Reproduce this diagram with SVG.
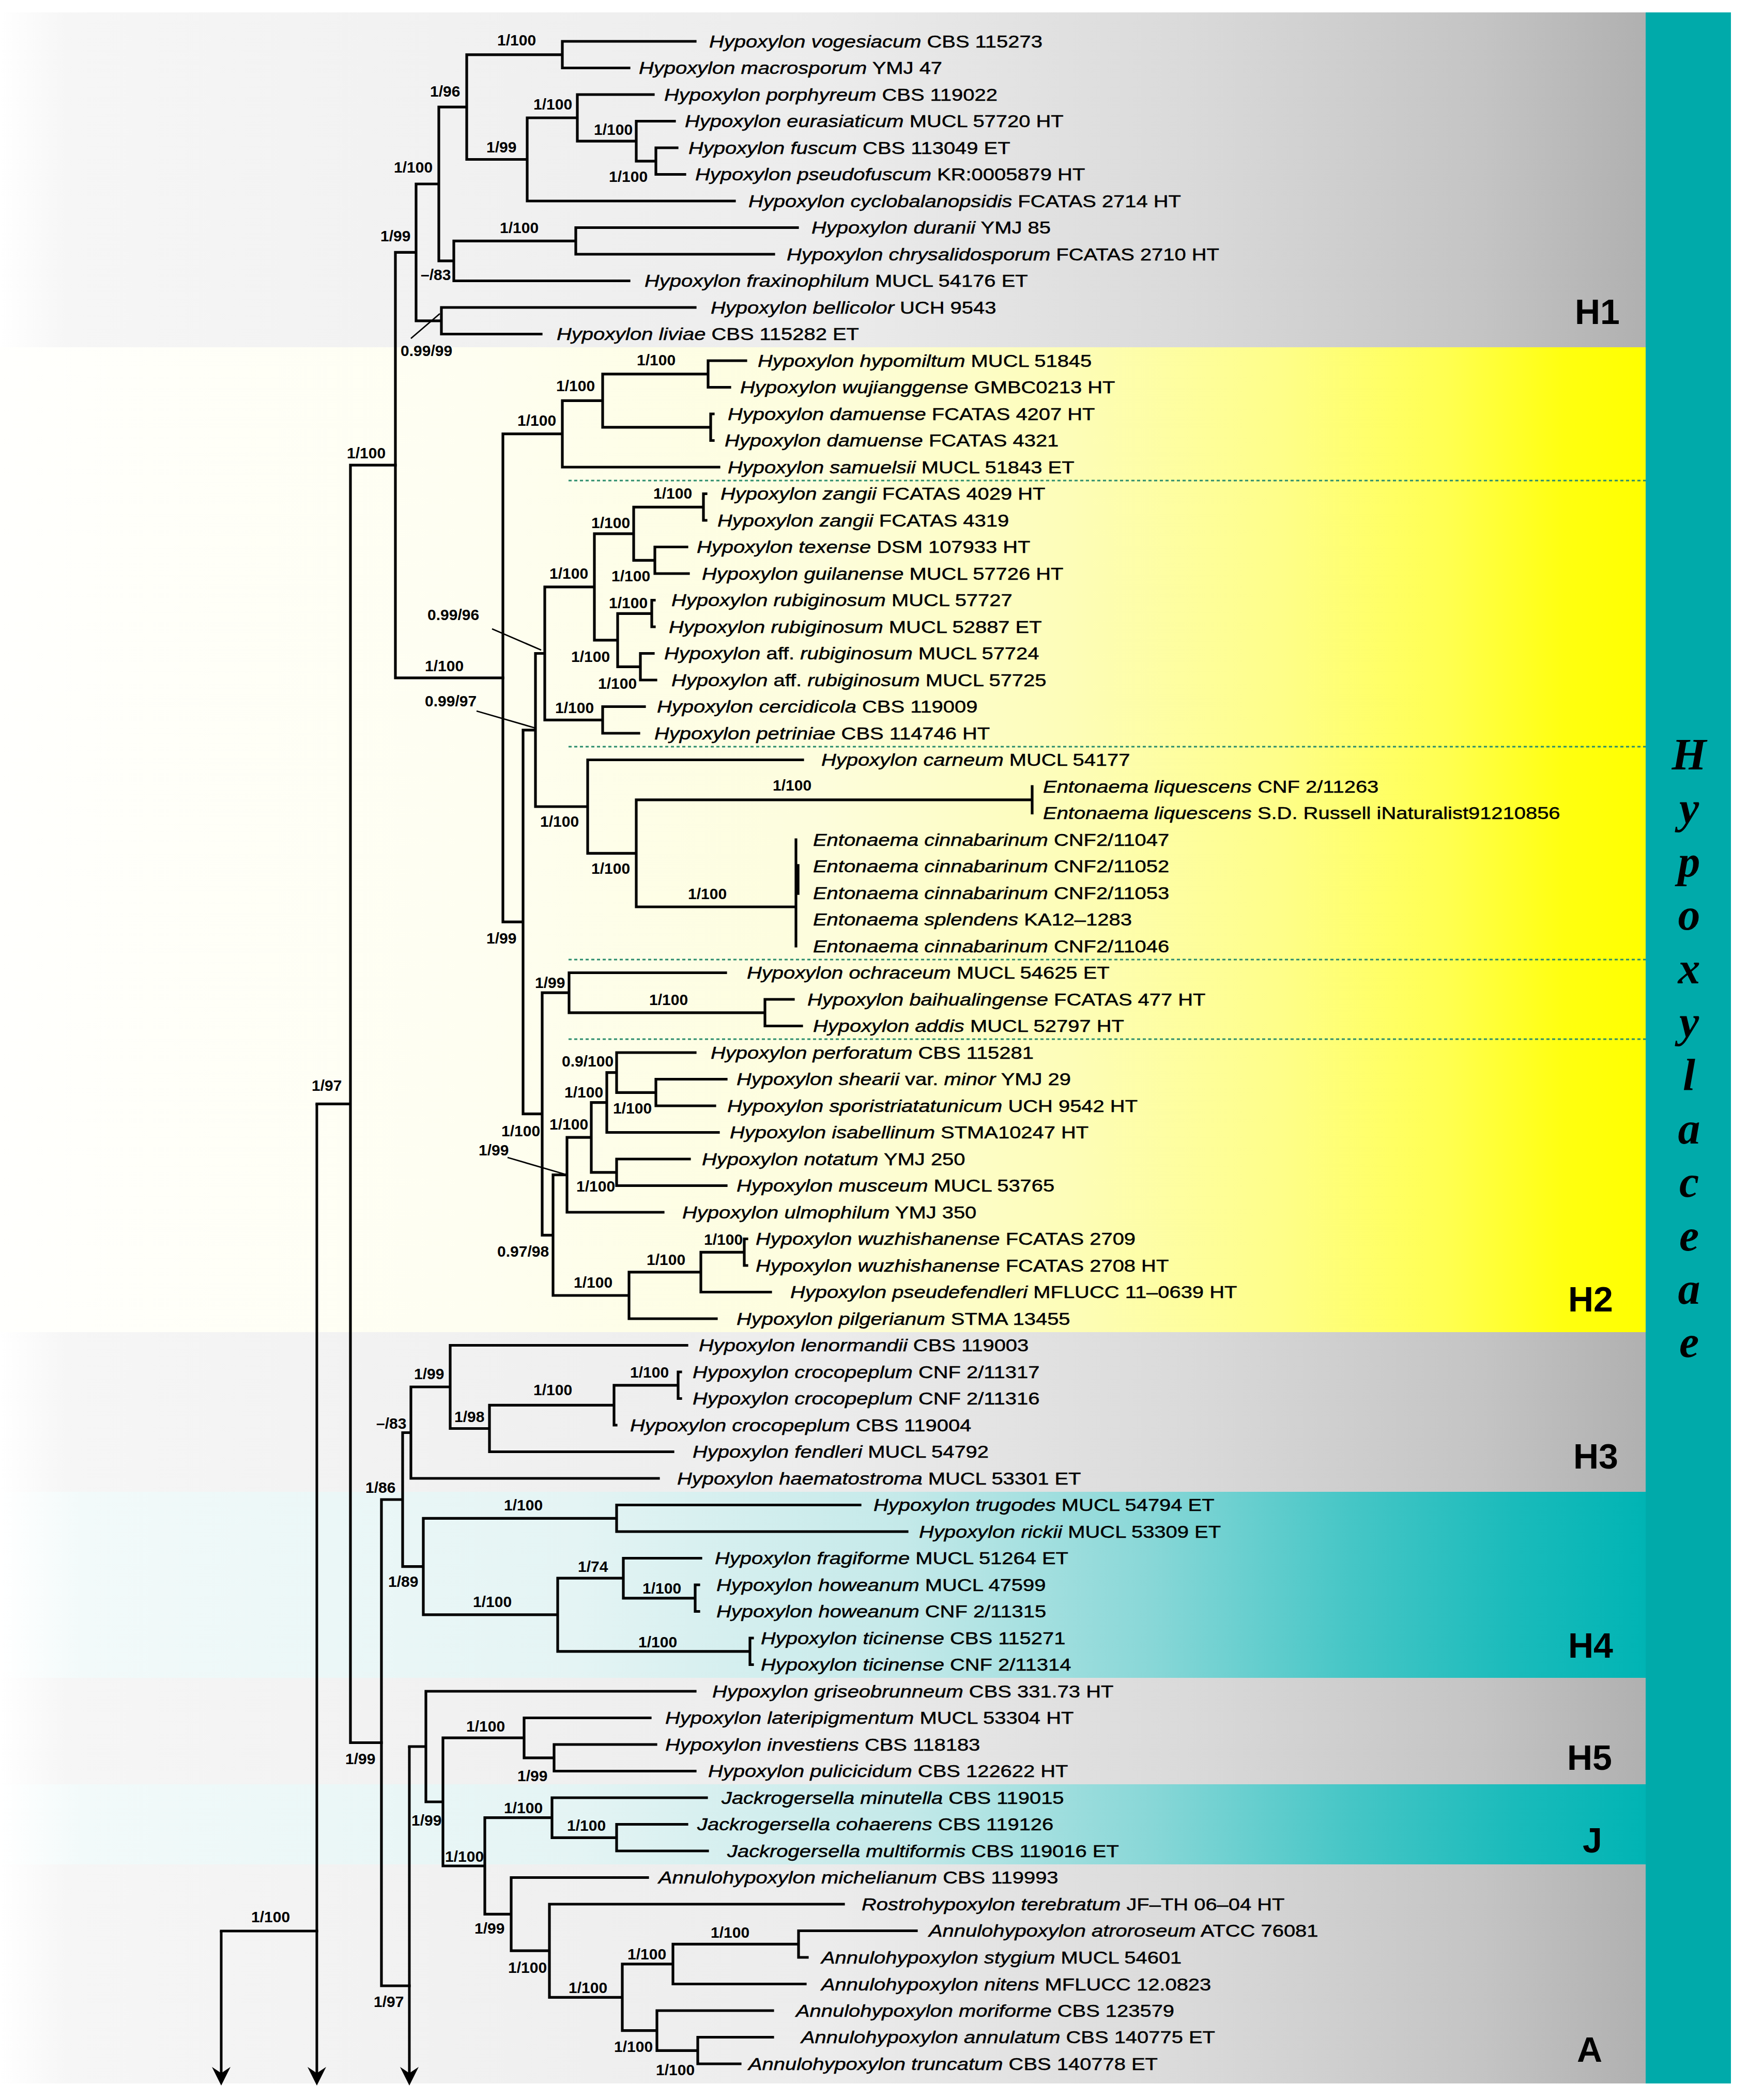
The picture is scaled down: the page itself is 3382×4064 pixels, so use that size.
<svg xmlns="http://www.w3.org/2000/svg" width="3382" height="4064" viewBox="0 0 3382 4064">
<style>
.br{stroke:#000;stroke-width:5.2;fill:none;stroke-linecap:square}
.ar{stroke:#000;stroke-width:5;fill:none;stroke-linecap:butt}
.ld{stroke:#000;stroke-width:2.8;fill:none}
.dot{stroke:#2a8c6c;stroke-width:3;stroke-dasharray:6 5;fill:none}
.lf{font-family:"Liberation Sans",Arial,sans-serif;font-size:33px;fill:#000;stroke:#000;stroke-width:0.5}
.i{font-style:italic}
.sp{font-family:"Liberation Sans",Arial,sans-serif;font-size:30px;font-weight:bold;fill:#000}
.cl{font-family:"Liberation Sans",Arial,sans-serif;font-size:68px;font-weight:bold;fill:#000}
.fam{font-family:"Liberation Serif","Times New Roman",serif;font-size:86px;font-weight:bold;font-style:italic;fill:#000;text-anchor:middle}
</style>
<defs>
<linearGradient id="gGray" gradientUnits="userSpaceOnUse" x1="0" y1="0" x2="3184" y2="0">
<stop offset="0" stop-color="#ffffff"/><stop offset="0.04" stop-color="#f6f6f6"/><stop offset="0.5" stop-color="#ececec"/><stop offset="0.72" stop-color="#dadada"/><stop offset="0.9" stop-color="#c4c4c4"/><stop offset="1" stop-color="#b0b0b0"/>
</linearGradient>
<linearGradient id="gYel" gradientUnits="userSpaceOnUse" x1="0" y1="0" x2="3184" y2="0">
<stop offset="0" stop-color="#fffffd"/><stop offset="0.3" stop-color="#fefef0"/><stop offset="0.5" stop-color="#fdfddc"/><stop offset="0.65" stop-color="#fdfdb8"/><stop offset="0.78" stop-color="#fefe88"/><stop offset="0.88" stop-color="#ffff50"/><stop offset="0.95" stop-color="#ffff10"/><stop offset="1" stop-color="#ffff00"/>
</linearGradient>
<linearGradient id="gTeal" gradientUnits="userSpaceOnUse" x1="0" y1="0" x2="3184" y2="0">
<stop offset="0" stop-color="#ffffff"/><stop offset="0.05" stop-color="#f2fafa"/><stop offset="0.35" stop-color="#e4f4f4"/><stop offset="0.55" stop-color="#c4e9e9"/><stop offset="0.7" stop-color="#88d7d7"/><stop offset="0.82" stop-color="#46c6c6"/><stop offset="0.92" stop-color="#1abbbb"/><stop offset="1" stop-color="#00b4b4"/>
</linearGradient>
<marker id="arrow" viewBox="-32 -20 40 40" refX="0" refY="0" markerWidth="40" markerHeight="40" markerUnits="userSpaceOnUse" orient="auto">
<path d="M6,0 L-30,-18 L-18,0 L-30,18 Z" fill="#000"/>
</marker>
</defs>
<rect x="0" y="0" width="3382" height="4064" fill="#ffffff"/>
<g id="bands">
<rect id="band-H1" x="0" y="24" width="3184" height="648" fill="url(#gGray)"/>
<rect id="band-H2" x="0" y="672" width="3184" height="1906" fill="url(#gYel)"/>
<rect id="band-H3" x="0" y="2578" width="3184" height="309" fill="url(#gGray)"/>
<rect id="band-H4" x="0" y="2887" width="3184" height="360" fill="url(#gTeal)"/>
<rect id="band-H5" x="0" y="3247" width="3184" height="206" fill="url(#gGray)"/>
<rect id="band-J" x="0" y="3453" width="3184" height="155" fill="url(#gTeal)"/>
<rect id="band-A" x="0" y="3608" width="3184" height="424" fill="url(#gGray)"/>
<rect id="family-bar" x="3184" y="24" width="165" height="4008" fill="#00aaaa"/>
<path class="dot" d="M1100,930H3184 M1100,1445H3184 M1100,1857H3184 M1100,2011H3184"/>
</g>
<g id="connectors">
<path class="br" d="M1088,80V131.5 M1088,80H1345 M1088,131.5H1217 M1269,286V337.5 M1269,286H1310 M1269,337.5H1325 M1231,234.5V311.8 M1231,234.5H1305 M1231,311.8H1269 M1117,183V273.1 M1117,183H1264 M1117,273.1H1231 M1020,228V389 M1020,228H1117 M1020,389H1421 M903,105.8V308.5 M903,105.8H1088 M903,308.5H1020 M1114,440.5V492 M1114,440.5H1543 M1114,492H1497 M878,466.3V543.5 M878,466.3H1114 M878,543.5H1217 M849,207.1V504.9 M849,207.1H903 M849,504.9H878 M854,595V646.5 M854,595H1345 M854,646.5H1047 M805,356V620.8 M805,356H849 M805,620.8H854 M765,488.4V1311.9 M765,488.4H805 M765,1311.9H973"/>
<path class="br" d="M1370,698V749.5 M1370,698H1443 M1370,749.5H1412 M1375,801V852.5 M1375,801H1380 M1375,852.5H1380 M1166,723.8V826.8 M1166,723.8H1370 M1166,826.8H1375 M1088,775.3V904 M1088,775.3H1166 M1088,904H1391 M1361,955.5V1007 M1361,955.5H1366 M1361,1007H1366 M1267,1058.5V1110 M1267,1058.5H1329 M1267,1110H1332 M1226,981.3V1084.3 M1226,981.3H1361 M1226,1084.3H1267 M1261,1161.5V1213 M1261,1161.5H1266 M1261,1213H1266 M1239,1264.5V1316 M1239,1264.5H1264 M1239,1316H1269 M1195,1187.3V1290.3 M1195,1187.3H1261 M1195,1290.3H1239 M1150,1032.8V1238.8 M1150,1032.8H1226 M1150,1238.8H1195 M1166,1367.5V1419 M1166,1367.5H1247 M1166,1419H1236 M1054,1135.8V1393.3 M1054,1135.8H1150 M1054,1393.3H1166 M1997,1522V1573.5 M1540,1625V1831 M1231,1547.8V1755 M1231,1547.8H1997 M1231,1755H1540 M1137,1470.5V1651.4 M1137,1470.5H1553 M1137,1651.4H1231 M1036,1264.5V1561 M1036,1264.5H1054 M1036,1561H1137 M1480,1934V1985.5 M1480,1934H1535 M1480,1985.5H1551 M1101,1882.5V1959.8 M1101,1882.5H1404 M1101,1959.8H1480 M1269,2088.5V2140 M1269,2088.5H1405 M1269,2140H1383 M1193,2037V2114.3 M1193,2037H1345 M1193,2114.3H1269 M1174,2075.6V2191.5 M1174,2075.6H1193 M1174,2191.5H1390 M1193,2243V2294.5 M1193,2243H1334 M1193,2294.5H1405 M1144,2133.6V2268.8 M1144,2133.6H1174 M1144,2268.8H1193 M1097,2201.2V2346 M1097,2201.2H1144 M1097,2346H1283 M1440,2397.5V2449 M1440,2397.5H1445 M1440,2449H1445 M1356,2423.3V2500.5 M1356,2423.3H1440 M1356,2500.5H1491 M1217,2461.9V2552 M1217,2461.9H1356 M1217,2552H1386 M1070,2273.6V2507 M1070,2273.6H1097 M1070,2507H1217 M1049,1921.1V2390.3 M1049,1921.1H1101 M1049,2390.3H1070 M1012,1412.8V2155.7 M1012,1412.8H1036 M1012,2155.7H1049 M973,839.6V1784.2 M973,839.6H1088 M973,1784.2H1012 M678,900.2V3372.5 M678,900.2H765 M678,3372.5H738 M613,2136.4H678"/>
<path class="br" style="stroke-width:7.5" d="M1543,1676V1728"/>
<path class="br" d="M1312,2655V2706.5 M1312,2655H1317 M1312,2706.5H1317 M1188,2680.8V2758 M1188,2680.8H1312 M1188,2758H1192 M947,2719.4V2809.5 M947,2719.4H1188 M947,2809.5H1302 M871,2603.5V2764.5 M871,2603.5H1329 M871,2764.5H947 M795,2684V2861 M795,2684H871 M795,2861H1274 M1193,2912.5V2964 M1193,2912.5H1664 M1193,2964H1755 M1345,3067V3118.5 M1345,3067H1352 M1345,3118.5H1352 M1206,3015.5V3092.8 M1206,3015.5H1356 M1206,3092.8H1345 M1451,3170V3221.5 M1451,3170H1456 M1451,3221.5H1456 M1079,3054.1V3195.8 M1079,3054.1H1206 M1079,3195.8H1451 M819,2938.3V3124.9 M819,2938.3H1193 M819,3124.9H1079 M779,2772.5V3031.6 M779,2772.5H795 M779,3031.6H819 M738,2902V3843 M738,2902H779 M738,3843H792"/>
<path class="br" d="M1072,3376V3427.5 M1072,3376H1269 M1072,3427.5H1345 M1014,3324.5V3401.8 M1014,3324.5H1258 M1014,3401.8H1072 M1193,3530.5V3582 M1193,3530.5H1329 M1193,3582H1369 M1068,3479V3556.3 M1068,3479H1367 M1068,3556.3H1193 M1545,3736.5V3788 M1545,3736.5H1773 M1545,3788H1562 M1302,3762.3V3839.5 M1302,3762.3H1545 M1302,3839.5H1558 M1350,3942.5V3994 M1350,3942.5H1495 M1350,3994H1432 M1271,3891V3968.3 M1271,3891H1495 M1271,3968.3H1350 M1204,3800.9V3929.6 M1204,3800.9H1302 M1204,3929.6H1271 M1063,3685V3865.3 M1063,3685H1632 M1063,3865.3H1204 M989,3633.5V3775.1 M989,3633.5H1253 M989,3775.1H1063 M938,3517.6V3704.3 M938,3517.6H1068 M938,3704.3H989 M857,3363.1V3611 M857,3363.1H1014 M857,3611H938 M824,3273V3487 M824,3273H1345 M824,3487H857 M792,3380H824 M428,3737H613"/>
<path class="ar" marker-end="url(#arrow)" d="M613,2136.4V4030"/>
<path class="ar" marker-end="url(#arrow)" d="M792,3380V4030"/>
<path class="ar" marker-end="url(#arrow)" d="M428,3737V4030"/>
<path class="ld" d="M795,655L851,607 M952,1217L1047,1258 M922,1376L1036,1409 M982,2240L1095,2273"/>
</g>
<g id="taxa" class="lf" transform="scale(1.21 1)">
<g id="t00"><text x="1133.9" y="92"><tspan class="i">Hypoxylon vogesiacum</tspan> CBS 115273</text></g>
<g id="t01"><text x="1021.5" y="143.5"><tspan class="i">Hypoxylon macrosporum</tspan> YMJ 47</text></g>
<g id="t02"><text x="1062" y="195"><tspan class="i">Hypoxylon porphyreum</tspan> CBS 119022</text></g>
<g id="t03"><text x="1095" y="246.5"><tspan class="i">Hypoxylon eurasiaticum</tspan> MUCL 57720 HT</text></g>
<g id="t04"><text x="1100.8" y="298"><tspan class="i">Hypoxylon fuscum</tspan> CBS 113049 ET</text></g>
<g id="t05"><text x="1111.6" y="349.5"><tspan class="i">Hypoxylon pseudofuscum</tspan> KR:0005879 HT</text></g>
<g id="t06"><text x="1196.7" y="401"><tspan class="i">Hypoxylon cyclobalanopsidis</tspan> FCATAS 2714 HT</text></g>
<g id="t07"><text x="1297.5" y="452.5"><tspan class="i">Hypoxylon duranii</tspan> YMJ 85</text></g>
<g id="t08"><text x="1257.9" y="504"><tspan class="i">Hypoxylon chrysalidosporum</tspan> FCATAS 2710 HT</text></g>
<g id="t09"><text x="1030.6" y="555.5"><tspan class="i">Hypoxylon fraxinophilum</tspan> MUCL 54176 ET</text></g>
<g id="t10"><text x="1136.4" y="607"><tspan class="i">Hypoxylon bellicolor</tspan> UCH 9543</text></g>
<g id="t11"><text x="890.1" y="658.5"><tspan class="i">Hypoxylon liviae</tspan> CBS 115282 ET</text></g>
<g id="t12"><text x="1211.6" y="710"><tspan class="i">Hypoxylon hypomiltum</tspan> MUCL 51845</text></g>
<g id="t13"><text x="1183.5" y="761.5"><tspan class="i">Hypoxylon wujianggense</tspan> GMBC0213 HT</text></g>
<g id="t14"><text x="1163.6" y="813"><tspan class="i">Hypoxylon damuense</tspan> FCATAS 4207 HT</text></g>
<g id="t15"><text x="1158.7" y="864.5"><tspan class="i">Hypoxylon damuense</tspan> FCATAS 4321</text></g>
<g id="t16"><text x="1163.6" y="916"><tspan class="i">Hypoxylon samuelsii</tspan> MUCL 51843 ET</text></g>
<g id="t17"><text x="1152.1" y="967.5"><tspan class="i">Hypoxylon zangii</tspan> FCATAS 4029 HT</text></g>
<g id="t18"><text x="1147.1" y="1019"><tspan class="i">Hypoxylon zangii</tspan> FCATAS 4319</text></g>
<g id="t19"><text x="1114" y="1070.5"><tspan class="i">Hypoxylon texense</tspan> DSM 107933 HT</text></g>
<g id="t20"><text x="1122.3" y="1122"><tspan class="i">Hypoxylon guilanense</tspan> MUCL 57726 HT</text></g>
<g id="t21"><text x="1073.6" y="1173.5"><tspan class="i">Hypoxylon rubiginosum</tspan> MUCL 57727</text></g>
<g id="t22"><text x="1069.4" y="1225"><tspan class="i">Hypoxylon rubiginosum</tspan> MUCL 52887 ET</text></g>
<g id="t23"><text x="1062" y="1276.5"><tspan class="i">Hypoxylon</tspan> aff. <tspan class="i">rubiginosum</tspan> MUCL 57724</text></g>
<g id="t24"><text x="1073.6" y="1328"><tspan class="i">Hypoxylon</tspan> aff. <tspan class="i">rubiginosum</tspan> MUCL 57725</text></g>
<g id="t25"><text x="1050.4" y="1379.5"><tspan class="i">Hypoxylon cercidicola</tspan> CBS 119009</text></g>
<g id="t26"><text x="1046.3" y="1431"><tspan class="i">Hypoxylon petriniae</tspan> CBS 114746 HT</text></g>
<g id="t27"><text x="1313.2" y="1482.5"><tspan class="i">Hypoxylon carneum</tspan> MUCL 54177</text></g>
<g id="t28"><text x="1667.8" y="1534"><tspan class="i">Entonaema liquescens</tspan> CNF 2/11263</text></g>
<g id="t29"><text x="1667.8" y="1585.5"><tspan class="i">Entonaema liquescens</tspan> S.D. Russell iNaturalist91210856</text></g>
<g id="t30"><text x="1300" y="1637"><tspan class="i">Entonaema cinnabarinum</tspan> CNF2/11047</text></g>
<g id="t31"><text x="1300" y="1688.5"><tspan class="i">Entonaema cinnabarinum</tspan> CNF2/11052</text></g>
<g id="t32"><text x="1300" y="1740"><tspan class="i">Entonaema cinnabarinum</tspan> CNF2/11053</text></g>
<g id="t33"><text x="1300" y="1791.5"><tspan class="i">Entonaema splendens</tspan> KA12–1283</text></g>
<g id="t34"><text x="1300" y="1843"><tspan class="i">Entonaema cinnabarinum</tspan> CNF2/11046</text></g>
<g id="t35"><text x="1194.2" y="1894.5"><tspan class="i">Hypoxylon ochraceum</tspan> MUCL 54625 ET</text></g>
<g id="t36"><text x="1290.9" y="1946"><tspan class="i">Hypoxylon baihualingense</tspan> FCATAS 477 HT</text></g>
<g id="t37"><text x="1300" y="1997.5"><tspan class="i">Hypoxylon addis</tspan> MUCL 52797 HT</text></g>
<g id="t38"><text x="1136.4" y="2049"><tspan class="i">Hypoxylon perforatum</tspan> CBS 115281</text></g>
<g id="t39"><text x="1177.7" y="2100.5"><tspan class="i">Hypoxylon shearii</tspan> var. <tspan class="i">minor</tspan> YMJ 29</text></g>
<g id="t40"><text x="1162.8" y="2152"><tspan class="i">Hypoxylon sporistriatatunicum</tspan> UCH 9542 HT</text></g>
<g id="t41"><text x="1166.9" y="2203.5"><tspan class="i">Hypoxylon isabellinum</tspan> STMA10247 HT</text></g>
<g id="t42"><text x="1122.3" y="2255"><tspan class="i">Hypoxylon notatum</tspan> YMJ 250</text></g>
<g id="t43"><text x="1177.7" y="2306.5"><tspan class="i">Hypoxylon musceum</tspan> MUCL 53765</text></g>
<g id="t44"><text x="1090.9" y="2358"><tspan class="i">Hypoxylon ulmophilum</tspan> YMJ 350</text></g>
<g id="t45"><text x="1208.3" y="2409.5"><tspan class="i">Hypoxylon wuzhishanense</tspan> FCATAS 2709</text></g>
<g id="t46"><text x="1208.3" y="2461"><tspan class="i">Hypoxylon wuzhishanense</tspan> FCATAS 2708 HT</text></g>
<g id="t47"><text x="1263.6" y="2512.5"><tspan class="i">Hypoxylon pseudefendleri</tspan> MFLUCC 11–0639 HT</text></g>
<g id="t48"><text x="1177.7" y="2564"><tspan class="i">Hypoxylon pilgerianum</tspan> STMA 13455</text></g>
<g id="t49"><text x="1117.4" y="2615.5"><tspan class="i">Hypoxylon lenormandii</tspan> CBS 119003</text></g>
<g id="t50"><text x="1107.4" y="2667"><tspan class="i">Hypoxylon crocopeplum</tspan> CNF 2/11317</text></g>
<g id="t51"><text x="1107.4" y="2718.5"><tspan class="i">Hypoxylon crocopeplum</tspan> CNF 2/11316</text></g>
<g id="t52"><text x="1007.4" y="2770"><tspan class="i">Hypoxylon crocopeplum</tspan> CBS 119004</text></g>
<g id="t53"><text x="1107.4" y="2821.5"><tspan class="i">Hypoxylon fendleri</tspan> MUCL 54792</text></g>
<g id="t54"><text x="1082.6" y="2873"><tspan class="i">Hypoxylon haematostroma</tspan> MUCL 53301 ET</text></g>
<g id="t55"><text x="1396.7" y="2924.5"><tspan class="i">Hypoxylon trugodes</tspan> MUCL 54794 ET</text></g>
<g id="t56"><text x="1469.4" y="2976"><tspan class="i">Hypoxylon rickii</tspan> MUCL 53309 ET</text></g>
<g id="t57"><text x="1143" y="3027.5"><tspan class="i">Hypoxylon fragiforme</tspan> MUCL 51264 ET</text></g>
<g id="t58"><text x="1145.5" y="3079"><tspan class="i">Hypoxylon howeanum</tspan> MUCL 47599</text></g>
<g id="t59"><text x="1145.5" y="3130.5"><tspan class="i">Hypoxylon howeanum</tspan> CNF 2/11315</text></g>
<g id="t60"><text x="1216.5" y="3182"><tspan class="i">Hypoxylon ticinense</tspan> CBS 115271</text></g>
<g id="t61"><text x="1216.5" y="3233.5"><tspan class="i">Hypoxylon ticinense</tspan> CNF 2/11314</text></g>
<g id="t62"><text x="1138.8" y="3285"><tspan class="i">Hypoxylon griseobrunneum</tspan> CBS 331.73 HT</text></g>
<g id="t63"><text x="1063.6" y="3336.5"><tspan class="i">Hypoxylon lateripigmentum</tspan> MUCL 53304 HT</text></g>
<g id="t64"><text x="1063.6" y="3388"><tspan class="i">Hypoxylon investiens</tspan> CBS 118183</text></g>
<g id="t65"><text x="1132.2" y="3439.5"><tspan class="i">Hypoxylon pulicicidum</tspan> CBS 122622 HT</text></g>
<g id="t66"><text x="1153.7" y="3491"><tspan class="i">Jackrogersella minutella</tspan> CBS 119015</text></g>
<g id="t67"><text x="1114.9" y="3542.5"><tspan class="i">Jackrogersella cohaerens</tspan> CBS 119126</text></g>
<g id="t68"><text x="1162.8" y="3594"><tspan class="i">Jackrogersella multiformis</tspan> CBS 119016 ET</text></g>
<g id="t69"><text x="1052.9" y="3645.5"><tspan class="i">Annulohypoxylon michelianum</tspan> CBS 119993</text></g>
<g id="t70"><text x="1377.7" y="3697"><tspan class="i">Rostrohypoxylon terebratum</tspan> JF–TH 06–04 HT</text></g>
<g id="t71"><text x="1485.1" y="3748.5"><tspan class="i">Annulohypoxylon atroroseum</tspan> ATCC 76081</text></g>
<g id="t72"><text x="1313.2" y="3800"><tspan class="i">Annulohypoxylon stygium</tspan> MUCL 54601</text></g>
<g id="t73"><text x="1313.2" y="3851.5"><tspan class="i">Annulohypoxylon nitens</tspan> MFLUCC 12.0823</text></g>
<g id="t74"><text x="1272.7" y="3903"><tspan class="i">Annulohypoxylon moriforme</tspan> CBS 123579</text></g>
<g id="t75"><text x="1281" y="3954.5"><tspan class="i">Annulohypoxylon annulatum</tspan> CBS 140775 ET</text></g>
<g id="t76"><text x="1196.7" y="4006"><tspan class="i">Annulohypoxylon truncatum</tspan> CBS 140778 ET</text></g>
</g>
<g id="support" class="sp">
<text x="962" y="88">1/100</text>
<text x="832" y="187">1/96</text>
<text x="1032" y="212">1/100</text>
<text x="941" y="295">1/99</text>
<text x="1149" y="261">1/100</text>
<text x="1178" y="352">1/100</text>
<text x="762" y="334">1/100</text>
<text x="967" y="451">1/100</text>
<text x="814" y="542">–/83</text>
<text x="736" y="467">1/99</text>
<text x="775" y="689">0.99/99</text>
<text x="671" y="887">1/100</text>
<text x="1232" y="707">1/100</text>
<text x="1076" y="757">1/100</text>
<text x="1001" y="824">1/100</text>
<text x="1264" y="965">1/100</text>
<text x="1144" y="1022">1/100</text>
<text x="1183" y="1125">1/100</text>
<text x="1063" y="1120">1/100</text>
<text x="1178" y="1177">1/100</text>
<text x="827" y="1200">0.99/96</text>
<text x="1105" y="1281">1/100</text>
<text x="822" y="1299">1/100</text>
<text x="1157" y="1333">1/100</text>
<text x="822" y="1367">0.99/97</text>
<text x="1074" y="1380">1/100</text>
<text x="1495" y="1530">1/100</text>
<text x="1045" y="1600">1/100</text>
<text x="1144" y="1691">1/100</text>
<text x="1331" y="1740">1/100</text>
<text x="941" y="1826">1/99</text>
<text x="1035" y="1912">1/99</text>
<text x="1256" y="1945">1/100</text>
<text x="1087" y="2064">0.9/100</text>
<text x="603" y="2111">1/97</text>
<text x="1092" y="2124">1/100</text>
<text x="1186" y="2155">1/100</text>
<text x="1063" y="2186">1/100</text>
<text x="970" y="2199">1/100</text>
<text x="926" y="2236">1/99</text>
<text x="1115" y="2306">1/100</text>
<text x="1362" y="2409">1/100</text>
<text x="962" y="2432">0.97/98</text>
<text x="1251" y="2448">1/100</text>
<text x="1110" y="2492">1/100</text>
<text x="801" y="2669">1/99</text>
<text x="1219" y="2666">1/100</text>
<text x="1032" y="2700">1/100</text>
<text x="879" y="2752">1/98</text>
<text x="728" y="2765">–/83</text>
<text x="707" y="2889">1/86</text>
<text x="975" y="2923">1/100</text>
<text x="1118" y="3042">1/74</text>
<text x="751" y="3071">1/89</text>
<text x="1243" y="3084">1/100</text>
<text x="915" y="3110">1/100</text>
<text x="1235" y="3188">1/100</text>
<text x="902" y="3351">1/100</text>
<text x="668" y="3414">1/99</text>
<text x="1001" y="3447">1/99</text>
<text x="975" y="3509">1/100</text>
<text x="796" y="3533">1/99</text>
<text x="1097" y="3543">1/100</text>
<text x="861" y="3603">1/100</text>
<text x="486" y="3720">1/100</text>
<text x="918" y="3742">1/99</text>
<text x="1375" y="3750">1/100</text>
<text x="1214" y="3792">1/100</text>
<text x="983" y="3818">1/100</text>
<text x="1100" y="3857">1/100</text>
<text x="723" y="3884">1/97</text>
<text x="1188" y="3971">1/100</text>
<text x="1269" y="4016">1/100</text>
</g>
<g id="clades" class="cl">
<g id="clade-H1"><text x="3047" y="627">H1</text></g>
<g id="clade-H2"><text x="3034" y="2538">H2</text></g>
<g id="clade-H3"><text x="3044" y="2842">H3</text></g>
<g id="clade-H4"><text x="3034" y="3208">H4</text></g>
<g id="clade-H5"><text x="3032" y="3425">H5</text></g>
<g id="clade-J"><text x="3062" y="3585">J</text></g>
<g id="clade-A"><text x="3051" y="3990">A</text></g>
</g>
<g id="family">
<text class="fam"><tspan x="3268" y="1489">H</tspan><tspan x="3268" y="1592">y</tspan><tspan x="3268" y="1696">p</tspan><tspan x="3268" y="1799">o</tspan><tspan x="3268" y="1903">x</tspan><tspan x="3268" y="2006">y</tspan><tspan x="3268" y="2109">l</tspan><tspan x="3268" y="2213">a</tspan><tspan x="3268" y="2316">c</tspan><tspan x="3268" y="2420">e</tspan><tspan x="3268" y="2523">a</tspan><tspan x="3268" y="2626">e</tspan></text>
</g>
</svg>
